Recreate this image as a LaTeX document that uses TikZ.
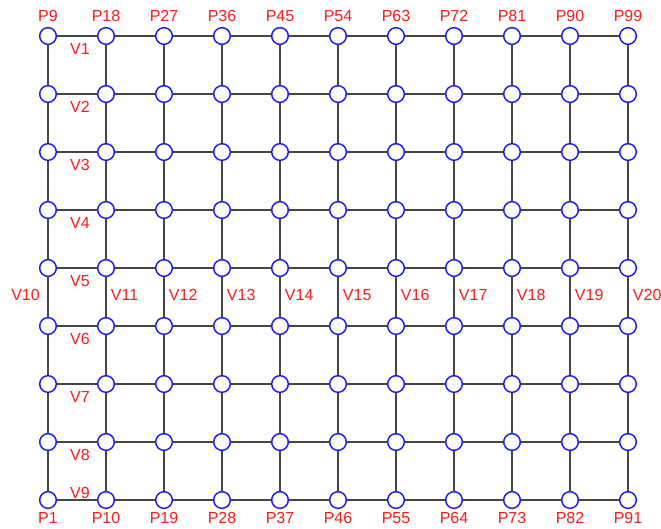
\documentclass[tikz,border=0pt]{standalone}
\usepackage{fontspec}
\setmainfont{Liberation Sans}
\definecolor{gridink}{HTML}{454545}
\definecolor{vertexblue}{HTML}{1A1AFF}
\definecolor{labelred}{HTML}{FF1A1A}

\begin{document}
\begin{tikzpicture}[
  x=43.5pt,
  y=43.5pt,
  every node/.style={font=\fontsize{12}{14}\selectfont, labelred},
  gridline/.style={gridink, line width=1.2pt},
  vertex/.style={circle, draw=vertexblue, fill=white, line width=1.1pt,
                 inner sep=0pt, minimum size=12.5pt},
  tag/.style={inner sep=0pt}
]
  \useasboundingbox (-0.8276,-0.4828) rectangle (10.569,8.621);

  % ---- vertices P1..P99, numbered upward column by column ----
  \foreach \i in {0,...,10}
    \foreach \j in {0,...,8}
    {
      \pgfmathtruncatemacro{\k}{9*\i+\j+1}
      \node[vertex] (p\k) at (\i,\j) {};
    }

  % ---- vertical edges ----
  \foreach \i in {0,...,10}
    \foreach \j in {1,...,8}
    {
      \pgfmathtruncatemacro{\a}{9*\i+\j}
      \pgfmathtruncatemacro{\b}{\a+1}
      \draw[gridline] (p\a) -- (p\b);
    }

  % ---- horizontal edges ----
  \foreach \i in {0,...,9}
    \foreach \j in {1,...,9}
    {
      \pgfmathtruncatemacro{\a}{9*\i+\j}
      \pgfmathtruncatemacro{\b}{\a+9}
      \draw[gridline] (p\a) -- (p\b);
    }

  % ---- vertex labels, top and bottom rows ----
  \foreach \i in {0,...,10}
  {
    \pgfmathtruncatemacro{\t}{9*\i+9}
    \pgfmathtruncatemacro{\s}{9*\i+1}
    \node[tag] (ptop\i) at ([yshift=15pt]p\t.center) {P\t};
    \node[tag] (pbot\i) at ([yshift=-13.5pt]p\s.center) {P\s};
  }

  % ---- row labels V1..V9 in the first column ----
  \foreach \k in {1,...,8}
    \node[tag] (v\k) at (0.55,9-\k-0.23) {V\k};
  \node[tag] (v9) at (0.55,0.12) {V9};

  % ---- column labels V10..V20 ----
  \node[tag, anchor=east] (v10) at ([xshift=-6pt]0,3.53) {V10};
  \foreach \i in {1,...,10}
  {
    \pgfmathtruncatemacro{\k}{\i+10}
    \node[tag, anchor=west] (v\k) at ([xshift=3.5pt]\i,3.53) {V\k};
  }
\end{tikzpicture}
\end{document}
